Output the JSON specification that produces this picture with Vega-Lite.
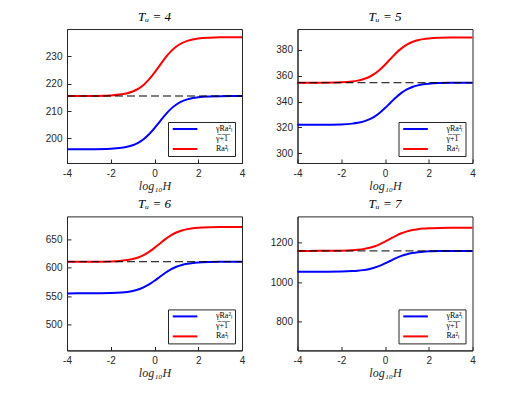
{
  "$schema": "https://vega.github.io/schema/vega-lite/v6.json",
  "padding": {"left": 44, "top": 10, "right": 5, "bottom": 5},
  "background": "white",
  "columns": 2,
  "bounds": "flush",
  "spacing": {"row": 53.4, "column": 55.5},
  "datasets": {
    "curves": [
      {"p":4,"s":"A","x":-4,"y":196.0},{"p":4,"s":"A","x":-3,"y":196.03},{"p":4,"s":"A","x":-2,"y":196.2},{"p":4,"s":"A","x":-1.5,"y":196.55},{"p":4,"s":"A","x":-1.25,"y":196.91},{"p":4,"s":"A","x":-1,"y":197.48},{"p":4,"s":"A","x":-0.75,"y":198.37},{"p":4,"s":"A","x":-0.5,"y":199.68},{"p":4,"s":"A","x":-0.25,"y":201.49},{"p":4,"s":"A","x":0,"y":203.75},{"p":4,"s":"A","x":0.25,"y":206.26},{"p":4,"s":"A","x":0.5,"y":208.7},{"p":4,"s":"A","x":0.75,"y":210.79},{"p":4,"s":"A","x":1,"y":212.4},{"p":4,"s":"A","x":1.25,"y":213.53},{"p":4,"s":"A","x":1.5,"y":214.28},{"p":4,"s":"A","x":1.75,"y":214.76},{"p":4,"s":"A","x":2,"y":215.05},{"p":4,"s":"A","x":2.5,"y":215.34},{"p":4,"s":"A","x":3,"y":215.44},{"p":4,"s":"A","x":4,"y":215.49},
      {"p":4,"s":"R","x":-4,"y":215.5},{"p":4,"s":"R","x":-3,"y":215.53},{"p":4,"s":"R","x":-2,"y":215.72},{"p":4,"s":"R","x":-1.5,"y":216.1},{"p":4,"s":"R","x":-1.25,"y":216.5},{"p":4,"s":"R","x":-1,"y":217.13},{"p":4,"s":"R","x":-0.75,"y":218.11},{"p":4,"s":"R","x":-0.5,"y":219.56},{"p":4,"s":"R","x":-0.25,"y":221.55},{"p":4,"s":"R","x":0,"y":224.04},{"p":4,"s":"R","x":0.25,"y":226.81},{"p":4,"s":"R","x":0.5,"y":229.51},{"p":4,"s":"R","x":0.75,"y":231.81},{"p":4,"s":"R","x":1,"y":233.58},{"p":4,"s":"R","x":1.25,"y":234.83},{"p":4,"s":"R","x":1.5,"y":235.66},{"p":4,"s":"R","x":1.75,"y":236.18},{"p":4,"s":"R","x":2,"y":236.51},{"p":4,"s":"R","x":2.5,"y":236.82},{"p":4,"s":"R","x":3,"y":236.94},{"p":4,"s":"R","x":4,"y":236.99},
      {"p":5,"s":"A","x":-4,"y":322.0},{"p":5,"s":"A","x":-3,"y":322.04},{"p":5,"s":"A","x":-2,"y":322.33},{"p":5,"s":"A","x":-1.5,"y":322.91},{"p":5,"s":"A","x":-1.25,"y":323.51},{"p":5,"s":"A","x":-1,"y":324.47},{"p":5,"s":"A","x":-0.75,"y":325.95},{"p":5,"s":"A","x":-0.5,"y":328.14},{"p":5,"s":"A","x":-0.25,"y":331.15},{"p":5,"s":"A","x":0,"y":334.91},{"p":5,"s":"A","x":0.25,"y":339.1},{"p":5,"s":"A","x":0.5,"y":343.17},{"p":5,"s":"A","x":0.75,"y":346.66},{"p":5,"s":"A","x":1,"y":349.34},{"p":5,"s":"A","x":1.25,"y":351.22},{"p":5,"s":"A","x":1.5,"y":352.47},{"p":5,"s":"A","x":1.75,"y":353.26},{"p":5,"s":"A","x":2,"y":353.75},{"p":5,"s":"A","x":2.5,"y":354.23},{"p":5,"s":"A","x":3,"y":354.41},{"p":5,"s":"A","x":4,"y":354.49},
      {"p":5,"s":"R","x":-4,"y":354.5},{"p":5,"s":"R","x":-3,"y":354.55},{"p":5,"s":"R","x":-2,"y":354.85},{"p":5,"s":"R","x":-1.5,"y":355.48},{"p":5,"s":"R","x":-1.25,"y":356.13},{"p":5,"s":"R","x":-1,"y":357.16},{"p":5,"s":"R","x":-0.75,"y":358.75},{"p":5,"s":"R","x":-0.5,"y":361.11},{"p":5,"s":"R","x":-0.25,"y":364.35},{"p":5,"s":"R","x":0,"y":368.41},{"p":5,"s":"R","x":0.25,"y":372.91},{"p":5,"s":"R","x":0.5,"y":377.3},{"p":5,"s":"R","x":0.75,"y":381.05},{"p":5,"s":"R","x":1,"y":383.94},{"p":5,"s":"R","x":1.25,"y":385.97},{"p":5,"s":"R","x":1.5,"y":387.31},{"p":5,"s":"R","x":1.75,"y":388.17},{"p":5,"s":"R","x":2,"y":388.7},{"p":5,"s":"R","x":2.5,"y":389.21},{"p":5,"s":"R","x":3,"y":389.4},{"p":5,"s":"R","x":4,"y":389.49},
      {"p":6,"s":"A","x":-4,"y":555.0},{"p":6,"s":"A","x":-3,"y":555.07},{"p":6,"s":"A","x":-2,"y":555.56},{"p":6,"s":"A","x":-1.5,"y":556.56},{"p":6,"s":"A","x":-1.25,"y":557.58},{"p":6,"s":"A","x":-1,"y":559.21},{"p":6,"s":"A","x":-0.75,"y":561.74},{"p":6,"s":"A","x":-0.5,"y":565.48},{"p":6,"s":"A","x":-0.25,"y":570.62},{"p":6,"s":"A","x":0,"y":577.05},{"p":6,"s":"A","x":0.25,"y":584.19},{"p":6,"s":"A","x":0.5,"y":591.15},{"p":6,"s":"A","x":0.75,"y":597.11},{"p":6,"s":"A","x":1,"y":601.68},{"p":6,"s":"A","x":1.25,"y":604.9},{"p":6,"s":"A","x":1.5,"y":607.03},{"p":6,"s":"A","x":1.75,"y":608.39},{"p":6,"s":"A","x":2,"y":609.22},{"p":6,"s":"A","x":2.5,"y":610.04},{"p":6,"s":"A","x":3,"y":610.34},{"p":6,"s":"A","x":4,"y":610.48},
      {"p":6,"s":"R","x":-4,"y":610.5},{"p":6,"s":"R","x":-3,"y":610.58},{"p":6,"s":"R","x":-2,"y":611.12},{"p":6,"s":"R","x":-1.5,"y":612.21},{"p":6,"s":"R","x":-1.25,"y":613.34},{"p":6,"s":"R","x":-1,"y":615.13},{"p":6,"s":"R","x":-0.75,"y":617.91},{"p":6,"s":"R","x":-0.5,"y":622.02},{"p":6,"s":"R","x":-0.25,"y":627.67},{"p":6,"s":"R","x":0,"y":634.74},{"p":6,"s":"R","x":0.25,"y":642.59},{"p":6,"s":"R","x":0.5,"y":650.24},{"p":6,"s":"R","x":0.75,"y":656.78},{"p":6,"s":"R","x":1,"y":661.81},{"p":6,"s":"R","x":1.25,"y":665.35},{"p":6,"s":"R","x":1.5,"y":667.69},{"p":6,"s":"R","x":1.75,"y":669.18},{"p":6,"s":"R","x":2,"y":670.1},{"p":6,"s":"R","x":2.5,"y":671.0},{"p":6,"s":"R","x":3,"y":671.32},{"p":6,"s":"R","x":4,"y":671.48},
      {"p":7,"s":"A","x":-4,"y":1053.0},{"p":7,"s":"A","x":-3,"y":1053.14},{"p":7,"s":"A","x":-2,"y":1054.06},{"p":7,"s":"A","x":-1.5,"y":1055.95},{"p":7,"s":"A","x":-1.25,"y":1057.88},{"p":7,"s":"A","x":-1,"y":1060.97},{"p":7,"s":"A","x":-0.75,"y":1065.75},{"p":7,"s":"A","x":-0.5,"y":1072.82},{"p":7,"s":"A","x":-0.25,"y":1082.56},{"p":7,"s":"A","x":0,"y":1094.72},{"p":7,"s":"A","x":0.25,"y":1108.23},{"p":7,"s":"A","x":0.5,"y":1121.4},{"p":7,"s":"A","x":0.75,"y":1132.66},{"p":7,"s":"A","x":1,"y":1141.32},{"p":7,"s":"A","x":1.25,"y":1147.41},{"p":7,"s":"A","x":1.5,"y":1151.44},{"p":7,"s":"A","x":1.75,"y":1154.0},{"p":7,"s":"A","x":2,"y":1155.59},{"p":7,"s":"A","x":2.5,"y":1157.14},{"p":7,"s":"A","x":3,"y":1157.7},{"p":7,"s":"A","x":4,"y":1157.96},
      {"p":7,"s":"R","x":-4,"y":1158.0},{"p":7,"s":"R","x":-3,"y":1158.15},{"p":7,"s":"R","x":-2,"y":1159.18},{"p":7,"s":"R","x":-1.5,"y":1161.29},{"p":7,"s":"R","x":-1.25,"y":1163.44},{"p":7,"s":"R","x":-1,"y":1166.88},{"p":7,"s":"R","x":-0.75,"y":1172.2},{"p":7,"s":"R","x":-0.5,"y":1180.09},{"p":7,"s":"R","x":-0.25,"y":1190.94},{"p":7,"s":"R","x":0,"y":1204.48},{"p":7,"s":"R","x":0.25,"y":1219.54},{"p":7,"s":"R","x":0.5,"y":1234.21},{"p":7,"s":"R","x":0.75,"y":1246.77},{"p":7,"s":"R","x":1,"y":1256.41},{"p":7,"s":"R","x":1.25,"y":1263.19},{"p":7,"s":"R","x":1.5,"y":1267.69},{"p":7,"s":"R","x":1.75,"y":1270.54},{"p":7,"s":"R","x":2,"y":1272.31},{"p":7,"s":"R","x":2.5,"y":1274.04},{"p":7,"s":"R","x":3,"y":1274.66},{"p":7,"s":"R","x":4,"y":1274.95}
    ],
    "ref": [
      {"p":4,"x":-4,"y":215.5},{"p":4,"x":4,"y":215.5},
      {"p":5,"x":-4,"y":354.5},{"p":5,"x":4,"y":354.5},
      {"p":6,"x":-4,"y":610.5},{"p":6,"x":4,"y":610.5},
      {"p":7,"x":-4,"y":1158},{"p":7,"x":4,"y":1158}
    ]
  },
  "resolve": {"scale": {"color": "independent"}, "legend": {"color": "independent"}},
  "concat": [
    {
      "title": "Tᵤ = 4",
      "width": 175, "height": 134,
      "encoding": {
        "x": {"field": "x", "type": "quantitative", "scale": {"domain": [-4, 4], "nice": false}, "axis": {"values": [-4, -2, 0, 2, 4], "title": "log₁₀H", "format": "d", "labelExpr": "replace(datum.label, '\u2212', '-')"}},
        "y": {"field": "y", "type": "quantitative", "scale": {"domain": [191, 240], "nice": false, "zero": false}, "axis": {"values": [200, 210, 220, 230], "title": null, "format": "d"}}
      },
      "layer": [
        {"data": {"name": "curves"}, "transform": [{"filter": "datum.p == 4"}], "mark": {"type": "line", "strokeWidth": 2, "interpolate": "monotone"},
         "encoding": {"color": {"field": "s", "type": "nominal", "scale": {"domain": ["A", "R"], "range": ["#0000ff", "#ff0000"]}, "legend": {"labelExpr": "datum.value == 'A' ? ['γRa²ₗ', 'γ\u0305+\u03051\u0305'] : 'Ra²ₗ'"}}}},
        {"data": {"name": "ref"}, "transform": [{"filter": "datum.p == 4"}], "mark": {"type": "line", "color": "black", "strokeWidth": 1, "strokeDash": [8, 4]}, "encoding": {}}
      ]
    },
    {
      "title": "Tᵤ = 5",
      "width": 175, "height": 134,
      "encoding": {
        "x": {"field": "x", "type": "quantitative", "scale": {"domain": [-4, 4], "nice": false}, "axis": {"values": [-4, -2, 0, 2, 4], "title": "log₁₀H", "format": "d", "labelExpr": "replace(datum.label, '\u2212', '-')"}},
        "y": {"field": "y", "type": "quantitative", "scale": {"domain": [292.5, 396], "nice": false, "zero": false}, "axis": {"values": [300, 320, 340, 360, 380], "title": null, "format": "d"}}
      },
      "layer": [
        {"data": {"name": "curves"}, "transform": [{"filter": "datum.p == 5"}], "mark": {"type": "line", "strokeWidth": 2, "interpolate": "monotone"},
         "encoding": {"color": {"field": "s", "type": "nominal", "scale": {"domain": ["A", "R"], "range": ["#0000ff", "#ff0000"]}, "legend": {"labelExpr": "datum.value == 'A' ? ['γRa²ₗ', 'γ\u0305+\u03051\u0305'] : 'Ra²ₗ'"}}}},
        {"data": {"name": "ref"}, "transform": [{"filter": "datum.p == 5"}], "mark": {"type": "line", "color": "black", "strokeWidth": 1, "strokeDash": [8, 4]}, "encoding": {}}
      ]
    },
    {
      "title": "Tᵤ = 6",
      "width": 175, "height": 134,
      "encoding": {
        "x": {"field": "x", "type": "quantitative", "scale": {"domain": [-4, 4], "nice": false}, "axis": {"values": [-4, -2, 0, 2, 4], "title": "log₁₀H", "format": "d", "labelExpr": "replace(datum.label, '\u2212', '-')"}},
        "y": {"field": "y", "type": "quantitative", "scale": {"domain": [455, 690], "nice": false, "zero": false}, "axis": {"values": [500, 550, 600, 650], "title": null, "format": "d"}}
      },
      "layer": [
        {"data": {"name": "curves"}, "transform": [{"filter": "datum.p == 6"}], "mark": {"type": "line", "strokeWidth": 2, "interpolate": "monotone"},
         "encoding": {"color": {"field": "s", "type": "nominal", "scale": {"domain": ["A", "R"], "range": ["#0000ff", "#ff0000"]}, "legend": {"labelExpr": "datum.value == 'A' ? ['γRa²ₗ', 'γ\u0305+\u03051\u0305'] : 'Ra²ₗ'"}}}},
        {"data": {"name": "ref"}, "transform": [{"filter": "datum.p == 6"}], "mark": {"type": "line", "color": "black", "strokeWidth": 1, "strokeDash": [8, 4]}, "encoding": {}}
      ]
    },
    {
      "title": "Tᵤ = 7",
      "width": 175, "height": 134,
      "encoding": {
        "x": {"field": "x", "type": "quantitative", "scale": {"domain": [-4, 4], "nice": false}, "axis": {"values": [-4, -2, 0, 2, 4], "title": "log₁₀H", "format": "d", "labelExpr": "replace(datum.label, '\u2212', '-')"}},
        "y": {"field": "y", "type": "quantitative", "scale": {"domain": [656, 1332], "nice": false, "zero": false}, "axis": {"values": [800, 1000, 1200], "title": null, "format": "d"}}
      },
      "layer": [
        {"data": {"name": "curves"}, "transform": [{"filter": "datum.p == 7"}], "mark": {"type": "line", "strokeWidth": 2, "interpolate": "monotone"},
         "encoding": {"color": {"field": "s", "type": "nominal", "scale": {"domain": ["A", "R"], "range": ["#0000ff", "#ff0000"]}, "legend": {"labelExpr": "datum.value == 'A' ? ['γRa²ₗ', 'γ\u0305+\u03051\u0305'] : 'Ra²ₗ'"}}}},
        {"data": {"name": "ref"}, "transform": [{"filter": "datum.p == 7"}], "mark": {"type": "line", "color": "black", "strokeWidth": 1, "strokeDash": [8, 4]}, "encoding": {}}
      ]
    }
  ],
  "config": {
    "view": {"stroke": "#262626", "strokeWidth": 1},
    "axis": {
      "grid": false,
      "domainColor": "#262626",
      "tickColor": "#262626",
      "tickSize": -4,
      "labelPadding": 9,
      "labelFont": "Liberation Sans",
      "labelFontSize": 10,
      "labelColor": "#262626",
      "labelFlush": false,
      "titleFont": "Liberation Serif",
      "titleFontStyle": "italic",
      "titleFontWeight": "normal",
      "titleFontSize": 12,
      "titleColor": "#262626",
      "titlePadding": 2
    },
    "title": {"font": "Liberation Serif", "fontStyle": "italic", "fontWeight": "normal", "fontSize": 13, "color": "black", "offset": 5},
    "legend": {
      "orient": "bottom-right",
      "offset": 7,
      "title": null,
      "strokeColor": "#262626",
      "fillColor": "white",
      "padding": 3,
      "symbolType": "M-1,0H10",
      "symbolStrokeWidth": 2,
      "symbolSize": 20,
      "symbolFillColor": "transparent",
      "labelOffset": 37,
      "labelFont": "Liberation Serif",
      "labelFontSize": 8,
      "labelColor": "black",
      "rowPadding": 2
    }
  }
}
